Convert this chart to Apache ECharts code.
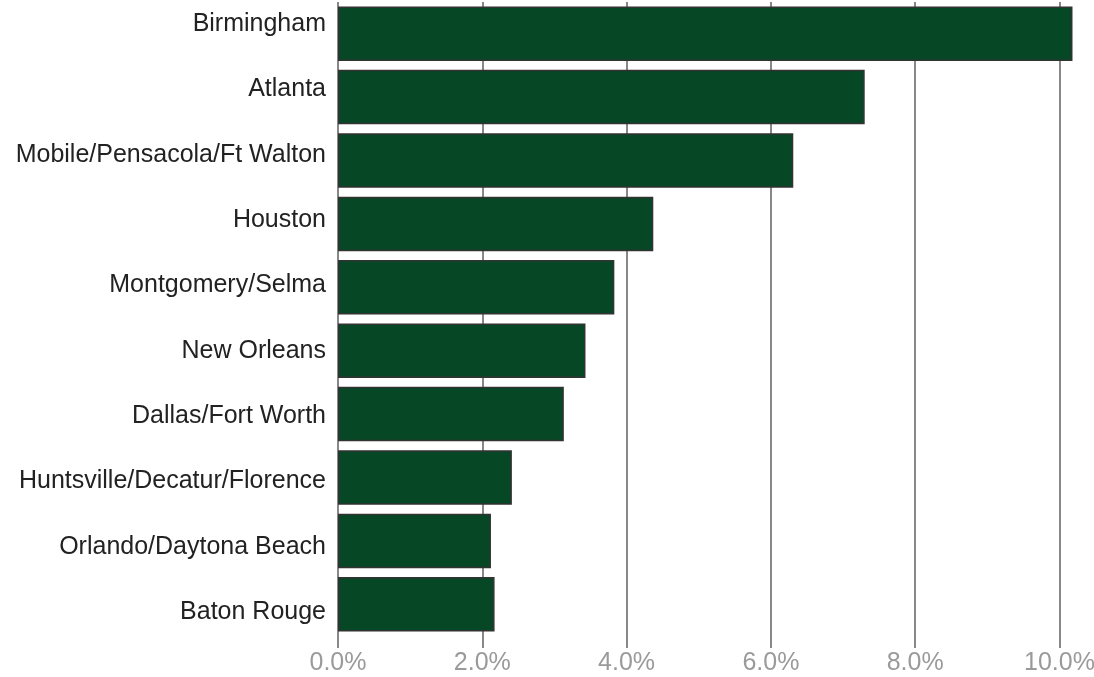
<!doctype html>
<html>
    <head>
        <meta charset="utf-8">
        <title>Markets</title>
        <style>
            html, body { margin: 0; padding: 0; background: #fff; }
            #main { width: 1094px; height: 677px; }
        </style>
    </head>
    <body>
        <div id="main"></div>
        <script src="https://cdn.jsdelivr.net/npm/echarts@6/dist/echarts.min.js"></script>
        <script>
            var markets = ['Birmingham', 'Atlanta', 'Mobile/Pensacola/Ft Walton', 'Houston',
                'Montgomery/Selma', 'New Orleans', 'Dallas/Fort Worth',
                'Huntsville/Decatur/Florence', 'Orlando/Daytona Beach', 'Baton Rouge'];
            var shares = [10.18, 7.30, 6.31, 4.37, 3.83, 3.43, 3.13, 2.41, 2.12, 2.17];
            var xTicks = [0, 2, 4, 6, 8, 10];

            var myChart = echarts.init(document.getElementById('main'));

            myChart.setOption({
                animation: false,
                grid: [
                    // bars
                    { left: 338, right: 34.5, top: 2, bottom: 41, outerBoundsMode: 'none' },
                    // category names sit on a slightly wider spacing than the bars
                    { left: 338, right: 34.5, top: -8.7, bottom: 32.3, outerBoundsMode: 'none' }
                ],
                xAxis: [{
                    type: 'value',
                    gridIndex: 0,
                    min: xTicks[0],
                    max: xTicks[xTicks.length - 1],
                    interval: 2,
                    axisLine: { show: false },
                    axisTick: { show: true, length: 12, lineStyle: { color: '#888', width: 2 } },
                    splitLine: { show: true, lineStyle: { color: '#888', width: 2 } },
                    axisLabel: {
                        margin: 15,
                        fontFamily: 'Liberation Sans',
                        fontSize: 25,
                        color: '#9a9a9a',
                        formatter: function (v) { return v.toFixed(1) + '%'; }
                    }
                }, {
                    type: 'value',
                    gridIndex: 1,
                    show: false,
                    min: 0,
                    max: 1
                }],
                yAxis: [{
                    type: 'category',
                    gridIndex: 0,
                    inverse: true,
                    data: markets,
                    axisLine: { show: false },
                    axisTick: { show: false },
                    axisLabel: { show: false }
                }, {
                    type: 'category',
                    gridIndex: 1,
                    inverse: true,
                    data: markets,
                    axisLine: { show: false },
                    axisTick: { show: false },
                    splitLine: { show: false },
                    axisLabel: {
                        margin: 12,
                        fontFamily: 'Liberation Sans',
                        fontSize: 25,
                        color: '#222'
                    }
                }],
                series: [{
                    type: 'bar',
                    xAxisIndex: 0,
                    yAxisIndex: 0,
                    data: shares,
                    clip: false,
                    barCategoryGap: '14%',
                    itemStyle: {
                        color: '#064726',
                        borderColor: '#333',
                        borderWidth: 1.5
                    },
                    z: 3
                }]
            });
        </script>
    </body>
</html>
